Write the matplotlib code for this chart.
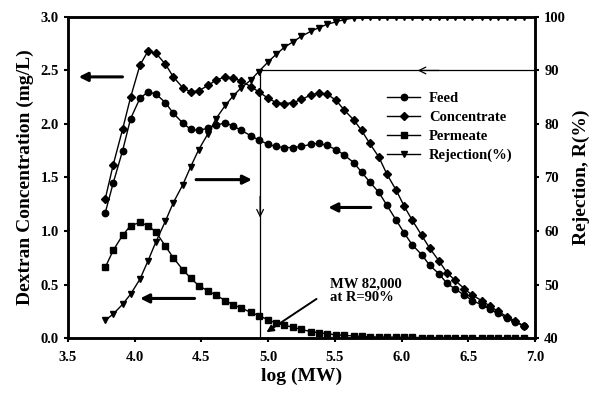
import matplotlib
matplotlib.use("Agg")
import matplotlib.pyplot as plt

plt.rcParams['font.family'] = ['Liberation Serif', 'DejaVu Serif']
plt.rcParams['font.weight'] = 'bold'

log_mw = [3.78, 3.84, 3.91, 3.97, 4.04, 4.10, 4.16, 4.23, 4.29, 4.36,
          4.42, 4.48, 4.55, 4.61, 4.68, 4.74, 4.80, 4.87, 4.93, 5.00,
          5.06, 5.12, 5.19, 5.25, 5.32, 5.38, 5.44, 5.51, 5.57, 5.64,
          5.70, 5.76, 5.83, 5.89, 5.96, 6.02, 6.08, 6.15, 6.21, 6.28,
          6.34, 6.40, 6.47, 6.53, 6.60, 6.66, 6.72, 6.79, 6.85, 6.92]

feed = [1.17, 1.45, 1.75, 2.05, 2.24, 2.30, 2.28, 2.20, 2.10, 2.01,
        1.95, 1.94, 1.96, 1.99, 2.01, 1.98, 1.94, 1.89, 1.85, 1.81,
        1.79, 1.78, 1.78, 1.79, 1.81, 1.82, 1.80, 1.76, 1.71, 1.64,
        1.55, 1.46, 1.36, 1.24, 1.10, 0.98, 0.87, 0.78, 0.68, 0.60,
        0.51, 0.46, 0.40, 0.35, 0.31, 0.27, 0.23, 0.19, 0.15, 0.11]

concentrate = [1.30, 1.62, 1.95, 2.25, 2.55, 2.68, 2.66, 2.56, 2.44, 2.34,
               2.30, 2.31, 2.36, 2.41, 2.44, 2.43, 2.40, 2.35, 2.30, 2.24,
               2.20, 2.19, 2.20, 2.23, 2.27, 2.29, 2.28, 2.22, 2.13, 2.04,
               1.94, 1.82, 1.69, 1.53, 1.38, 1.23, 1.10, 0.96, 0.84, 0.72,
               0.61, 0.54, 0.46, 0.40, 0.35, 0.30, 0.25, 0.20, 0.16, 0.11]

permeate = [0.66, 0.82, 0.96, 1.05, 1.08, 1.05, 0.99, 0.86, 0.75, 0.64,
            0.56, 0.49, 0.44, 0.40, 0.35, 0.31, 0.28, 0.24, 0.21, 0.17,
            0.14, 0.12, 0.10, 0.08, 0.06, 0.05, 0.04, 0.03, 0.025, 0.02,
            0.015, 0.012, 0.01, 0.01, 0.008, 0.007, 0.006, 0.005, 0.005, 0.004,
            0.004, 0.003, 0.003, 0.003, 0.002, 0.002, 0.002, 0.002, 0.001, 0.001]

rejection = [43.3, 44.5, 46.3, 48.2, 51.0, 54.4, 58.0, 61.8, 65.3, 68.6,
             72.0, 75.2, 78.2, 81.0, 83.5, 85.3, 86.8, 88.2, 89.8, 91.6,
             93.0, 94.3, 95.4, 96.4, 97.3, 98.0, 98.6, 99.1, 99.5, 99.8,
             99.9, 100, 100, 100, 100, 100, 100, 100, 100, 100,
             100, 100, 100, 100, 100, 100, 100, 100, 100, 100]

x_ticks = [3.5, 4.0, 4.5, 5.0, 5.5, 6.0, 6.5, 7.0]
y_ticks = [0.0, 0.5, 1.0, 1.5, 2.0, 2.5, 3.0]
r_ticks = [40, 50, 60, 70, 80, 90, 100]
cut_x = 4.94

fig = plt.figure(figsize=(5.9, 3.94), dpi=100)
ax = fig.add_axes([0.115, 0.142, 0.792, 0.815])
ax2 = ax.twinx()

ms = 4.6
l1, = ax.plot(log_mw, feed, '-o', color='black', lw=1, ms=ms, label='Feed')
l2, = ax.plot(log_mw, concentrate, '-D', color='black', lw=1, ms=ms-0.6, label='Concentrate')
l3, = ax.plot(log_mw, permeate, '-s', color='black', lw=1, ms=ms-0.8, label='Permeate')
l4, = ax2.plot(log_mw, rejection, '-v', color='black', lw=1, ms=ms, label='Rejection(%)')

ax.set_xlim(3.5, 7.0)
ax.set_ylim(0, 3.0)
ax2.set_ylim(40, 100)
ax.set_xticks(x_ticks)
ax.set_xticklabels([f"{v:.1f}" for v in x_ticks])
ax.set_yticks(y_ticks)
ax.set_yticklabels([f"{v:.1f}" for v in y_ticks])
ax2.set_yticks(r_ticks)
ax2.set_yticklabels([str(v) for v in r_ticks])

for a in (ax, ax2):
    for s in a.spines.values():
        s.set_linewidth(1.8)
    a.tick_params(direction='out', length=3, width=1.5, labelsize=10.5)
ax.tick_params(axis='x', pad=6)

ax.set_xlabel('log (MW)', fontsize=14, fontweight='bold', labelpad=3)
ax.set_ylabel('Dextran Concentration (mg/L)', fontsize=14, fontweight='bold', labelpad=5)
ax2.set_ylabel('Rejection, R(%)', fontsize=14, fontweight='bold', labelpad=5)

# cutoff lines
ax2.plot([cut_x, 7.0], [90, 90], color='black', lw=0.9)
ax2.plot([cut_x, cut_x], [40, 90], color='black', lw=0.9)
ax2.annotate('', xy=(6.10, 90), xytext=(6.3, 90),
             arrowprops=dict(arrowstyle='->', color='black', lw=0.9, mutation_scale=12))
ax.annotate('', xy=(cut_x, 1.10), xytext=(cut_x, 1.35),
            arrowprops=dict(arrowstyle='->', color='black', lw=0.9, mutation_scale=12))

# thick direction arrows
thick = dict(arrowstyle='-|>', color='black', lw=2.2, mutation_scale=13)
ax.annotate('', xy=(3.56, 2.44), xytext=(3.93, 2.44), arrowprops=thick)
ax.annotate('', xy=(4.90, 1.48), xytext=(4.44, 1.48), arrowprops=thick)
ax.annotate('', xy=(4.02, 0.37), xytext=(4.47, 0.37), arrowprops=thick)
ax.annotate('', xy=(5.43, 1.22), xytext=(5.79, 1.22), arrowprops=thick)

ax.annotate('', xy=(4.97, 0.04), xytext=(5.38, 0.38),
            arrowprops=dict(arrowstyle='-|>', color='black', lw=1.4, mutation_scale=10))
ax.text(5.46, 0.57, 'MW 82,000\nat R=90%', fontsize=10.5, fontweight='bold',
        va='top', ha='left', linespacing=1.05)

leg = ax2.legend(handles=[l1, l2, l3, l4], loc='upper left',
                 bbox_to_anchor=(0.67, 0.785), frameon=False, fontsize=10.5,
                 handlelength=2.3, labelspacing=0.4, handletextpad=0.6,
                 borderaxespad=0)

fig.savefig('out.png', dpi=100)
